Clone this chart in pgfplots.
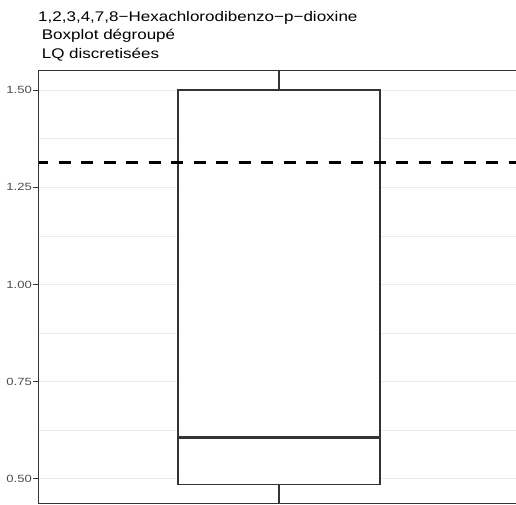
\documentclass[border=0pt]{standalone}
\usepackage{pgfplots}
\pgfplotsset{compat=1.18}
\usepgfplotslibrary{statistics}
\usepackage{fontspec}
\setmainfont{Liberation Sans}
\newfontfamily\titlefont[FakeStretch=1.22]{Liberation Sans}
\newfontfamily\tickfont[FakeStretch=1.25]{Liberation Sans}
\definecolor{c333}{HTML}{333333}
\definecolor{c4d}{HTML}{4D4D4D}
\definecolor{gridc}{HTML}{EBEBEB}
\begin{document}
\begin{tikzpicture}
\begin{axis}[
  scale only axis,
  width=478bp, height=432.6bp,
  xmin=-0.193, xmax=2.173,
  ymin=0.437, ymax=1.55,
  xtick=\empty,
  ytick={0.5,0.75,1.0,1.25,1.5},
  minor ytick={0.625,0.875,1.125,1.375},
  ytick pos=left,
  tick align=outside,
  major tick length=4.5bp,
  minor tick length=0pt,
  tick style={c333, line width=1bp},
  yticklabel style={font=\tickfont\fontsize{10.5}{12.5}\selectfont, text=c4d, inner sep=1.5bp},
  /pgf/number format/.cd, fixed, fixed zerofill, precision=2, assume math mode=true,
  /pgfplots/.cd,
  ymajorgrids, yminorgrids,
  major grid style={gridc, line width=1.1bp},
  minor grid style={gridc, line width=0.55bp},
  axis line style={draw=none},
  clip=true,
  boxplot/draw direction=y,
  boxplot/every median/.style={line width=2.6bp},
]
\addplot+[boxplot prepared={median=0.606, upper quartile=1.50, lower quartile=0.4856,
   upper whisker=1.56, lower whisker=0.43, draw position=1, box extend=1, whisker extend=0},
   draw=c333, line width=1.6bp, fill=white, mark=none, solid] coordinates {};
\addplot[black, line width=3bp, dash pattern=on 12bp off 10.5bp, dash phase=2bp]
   coordinates {(-0.193,1.314) (2.173,1.314)};
\draw[c333, line width=1.1bp] (rel axis cs:1,1) -- (rel axis cs:0,1) -- (rel axis cs:0,0) -- (rel axis cs:1,0);
\coordinate (axsw) at (rel axis cs:0,0);
\coordinate (axnw) at (rel axis cs:0,1);
\end{axis}
\node[anchor=base west, inner sep=0pt, align=left, font=\titlefont\fontsize{14}{18.5}\selectfont]
  at ([yshift=12.3bp]axnw) {1,2,3,4,7,8−Hexachlorodibenzo−p−dioxine\\\hspace*{3.6bp}Boxplot dégroupé\\\hspace*{3.6bp}LQ discretisées};
\pgfresetboundingbox
\path (axsw) ++(-38bp,-1.7bp) rectangle ++(516bp,505bp);
\end{tikzpicture}
\end{document}
